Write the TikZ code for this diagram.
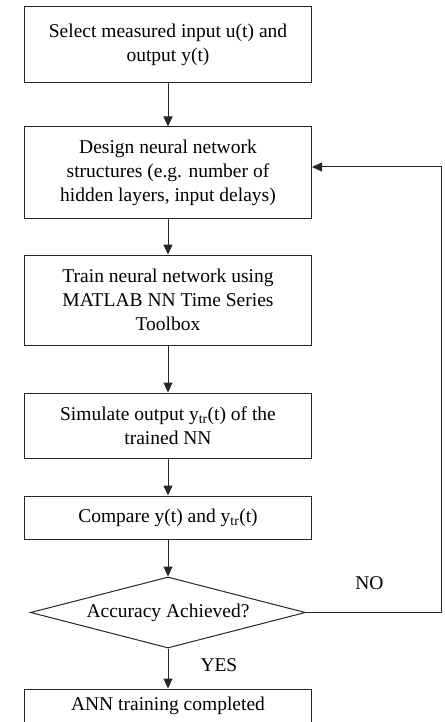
\documentclass[tikz,border=0pt]{standalone}
\usepackage{fontspec}
\setmainfont{Liberation Serif}
\usetikzlibrary{arrows.meta,positioning,shapes.geometric}
\tikzset{
  nnproc/.style={rectangle, draw=black!85, line width=1pt, align=center, minimum width=287pt, inner sep=2pt},
  nndec/.style={diamond, draw=black!85, line width=1pt, aspect=3.87, inner sep=0pt, minimum width=275pt, minimum height=71pt},
  nnarrow/.style={-{Triangle[length=10pt,width=9pt]}, line width=1pt, draw=black!85},
  nnlabel/.style={inner sep=0pt}
}

\begin{document}
\begin{tikzpicture}[font=\fontsize{19.5pt}{24pt}\selectfont]
\useasboundingbox (0,0) rectangle (444pt,-722pt);

\node[nnproc, minimum height=76pt] (b1) at (168pt,-45pt) {Select measured input u(t) and\\output y(t)};
\node[nnproc, minimum height=91pt, below=43pt of b1] (b2) {Design neural network\\structures (e.g. number of\\hidden layers, input delays)};
\node[nnproc, minimum height=90pt, below=36pt of b2] (b3) {Train neural network using\\MATLAB NN Time Series\\Toolbox};
\node[nnproc, minimum height=65pt, below=47pt of b3] (b4) {Simulate output y\textsubscript{tr}(t) of the\\trained NN};
\node[nnproc, minimum height=43pt, below=37pt of b4] (b5) {Compare y(t) and y\textsubscript{tr}(t)};
\node[nndec, below=37pt of b5] (dec) {Accuracy Achieved?};
\node[nnproc, minimum height=43pt, text depth=14pt, below=40pt of dec] (b6) {ANN training completed};

\draw[nnarrow] (b1) -- (b2);
\draw[nnarrow] (b2) -- (b3);
\draw[nnarrow] (b3) -- (b4);
\draw[nnarrow] (b4) -- (b5);
\draw[nnarrow] (b5) -- (dec);
\draw[nnarrow] (dec) -- node[nnlabel, right=32pt, yshift=3pt] (yes) {YES} (b6);
\draw[nnarrow] (dec.east) -- node[nnlabel, above=22pt, pos=0.47] (no) {NO} ++(135pt,0) |- ([yshift=5.5pt]b2.east);
\end{tikzpicture}
\end{document}
